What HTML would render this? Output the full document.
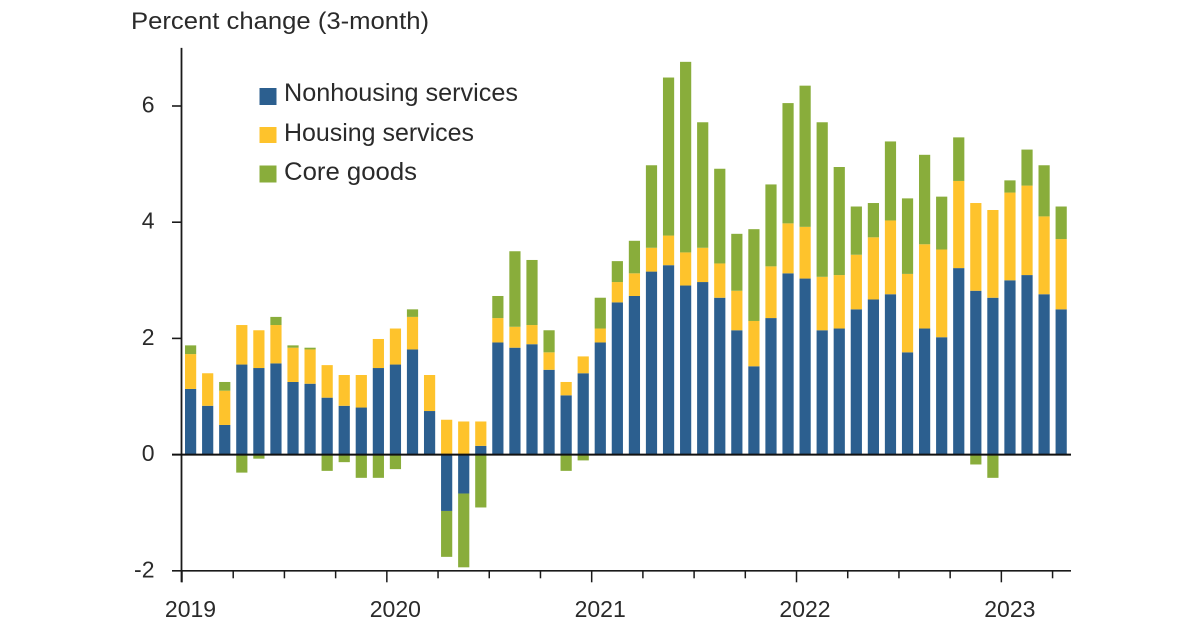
<!DOCTYPE html>
<html lang="en">
<head>
<meta charset="utf-8">
<title>Percent change (3-month)</title>
<style>
html,body{margin:0;padding:0;background:#fff;}
svg{display:block;filter:blur(0.35px);}
text{font-family:"Liberation Sans",sans-serif;fill:#2a2a2a;}
</style>
</head>
<body>
<svg id="chart" xmlns="http://www.w3.org/2000/svg" width="1200" height="628" viewBox="0 0 1200 628">
  <text x="131" y="29" font-size="24" textLength="298" lengthAdjust="spacingAndGlyphs">Percent change (3-month)</text>
  <g id="bars"></g>
  <g id="axes"></g>
  <g>
    <g>
      <rect x="259.5" y="88" width="17" height="17" fill="#2c5f8f"/>
      <text x="284" y="101" font-size="25" textLength="234" lengthAdjust="spacingAndGlyphs">Nonhousing services</text>
    </g>
    <g>
      <rect x="259.5" y="127" width="17" height="16" fill="#fec32c"/>
      <text x="284" y="141" font-size="25" textLength="190" lengthAdjust="spacingAndGlyphs">Housing services</text>
    </g>
    <g>
      <rect x="259.5" y="165.5" width="17" height="17" fill="#89ad3b"/>
      <text x="284" y="180" font-size="25" textLength="133" lengthAdjust="spacingAndGlyphs">Core goods</text>
    </g>
  </g>
</svg>
<script>
const months = ["2019-01","2019-02","2019-03","2019-04","2019-05","2019-06","2019-07","2019-08","2019-09","2019-10","2019-11","2019-12",
"2020-01","2020-02","2020-03","2020-04","2020-05","2020-06","2020-07","2020-08","2020-09","2020-10","2020-11","2020-12",
"2021-01","2021-02","2021-03","2021-04","2021-05","2021-06","2021-07","2021-08","2021-09","2021-10","2021-11","2021-12",
"2022-01","2022-02","2022-03","2022-04","2022-05","2022-06","2022-07","2022-08","2022-09","2022-10","2022-11","2022-12",
"2023-01","2023-02","2023-03","2023-04"];
const nonhousing = [1.13,0.84,0.51,1.55,1.49,1.57,1.25,1.22,0.98,0.84,0.81,1.49,
1.55,1.81,0.75,-0.97,-0.67,0.15,1.93,1.84,1.90,1.46,1.02,1.40,
1.93,2.62,2.73,3.15,3.26,2.91,2.97,2.70,2.14,1.52,2.35,3.12,
3.03,2.14,2.17,2.50,2.67,2.76,1.76,2.17,2.02,3.21,2.82,2.70,
3.00,3.09,2.76,2.50];
const housing = [0.60,0.56,0.59,0.68,0.65,0.66,0.59,0.59,0.56,0.53,0.56,0.50,
0.62,0.56,0.62,0.60,0.57,0.42,0.42,0.36,0.33,0.30,0.23,0.29,
0.24,0.35,0.39,0.41,0.51,0.57,0.59,0.59,0.68,0.78,0.89,0.86,
0.89,0.92,0.92,0.94,1.07,1.27,1.35,1.45,1.51,1.50,1.51,1.51,
1.51,1.54,1.34,1.21];
const coreGoods = [0.15,0,0.15,-0.31,-0.07,0.14,0.04,0.03,-0.28,-0.13,-0.40,-0.40,
-0.25,0.13,0,-0.79,-1.27,-0.91,0.38,1.30,1.12,0.38,-0.28,-0.10,
0.53,0.36,0.56,1.42,2.72,3.28,2.16,1.63,0.98,1.58,1.41,2.07,
2.43,2.66,1.86,0.83,0.59,1.36,1.30,1.54,0.91,0.75,-0.17,-0.40,
0.21,0.62,0.88,0.56];
const yTickValues = [-2,0,2,4,6];
const yTickLabels = ["-2","0","2","4","6"];
const yearLabels = ["2019","2020","2021","2022","2023"];

const NS = "http://www.w3.org/2000/svg";
const INK = "#1a1a1a";
const BLUE = "#2c5f8f";
const YELLOW = "#fec32c";
const GREEN = "#89ad3b";
const barsGroup = document.getElementById("bars");
const axesGroup = document.getElementById("axes");

function xScale(i){ return 182 + 17.07 * i; }
function yScale(v){ return 454.6 - 58.1 * v; }

function make(tag, attrs, parent){
  const el = document.createElementNS(NS, tag);
  for (const k in attrs) el.setAttribute(k, attrs[k]);
  parent.appendChild(el);
  return el;
}

const seriesList = [nonhousing, housing, coreGoods];
const seriesColors = [BLUE, YELLOW, GREEN];
const seriesKeys = ["nonhousing", "housing", "core-goods"];

months.forEach(function(month, i){
  let up = 0;
  let down = 0;
  seriesList.forEach(function(series, s){
    const v = series[i];
    if (v === 0) return;
    const start = v > 0 ? up : down;
    const end = start + v;
    if (v > 0) up = end; else down = end;
    const y1 = yScale(Math.max(start, end));
    const y2 = yScale(Math.min(start, end));
    const bar = make("rect", {x: xScale(i) + 3, y: y1, width: 11.2, height: y2 - y1, fill: seriesColors[s]}, barsGroup);
    
    
  });
});

const yAxisLine = make("line", {x1: 181.5, x2: 181.5, y1: yScale(7), y2: yScale(-2) + 11.5, stroke: INK, "stroke-width": 1.8}, axesGroup);



const xAxisLine = make("line", {x1: 172, x2: 1071, y1: yScale(-2), y2: yScale(-2), stroke: INK, "stroke-width": 1.6}, axesGroup);



const zeroLine = make("line", {x1: 172, x2: 1071, y1: yScale(0), y2: yScale(0), stroke: "#111", "stroke-width": 2}, axesGroup);



yTickValues.forEach(function(v, i){
  if (v !== 0 && v !== -2) {
    const tick = make("line", {x1: 172, x2: 181.5, y1: yScale(v), y2: yScale(v), stroke: INK, "stroke-width": 1.6}, axesGroup);
    
    
  }
  const label = make("text", {x: 154.5, y: yScale(v) + 6.5, "font-size": 23, "text-anchor": "end"}, axesGroup);
  label.textContent = yTickLabels[i];
  
  
});

months.forEach(function(month, i){
  if (i % 3 !== 0) return;
  const isYear = i % 12 === 0;
  const tick = make("line", {x1: xScale(i), x2: xScale(i), y1: yScale(-2), y2: yScale(-2) + (isYear ? 11.5 : 7.5), stroke: INK, "stroke-width": 1.5}, axesGroup);
  
  
  if (isYear) {
    const label = make("text", {x: xScale(i) + 8.5, y: 617, "font-size": 23, "text-anchor": "middle"}, axesGroup);
    label.textContent = yearLabels[i / 12];
    
    
  }
});
</script>
</body>
</html>
